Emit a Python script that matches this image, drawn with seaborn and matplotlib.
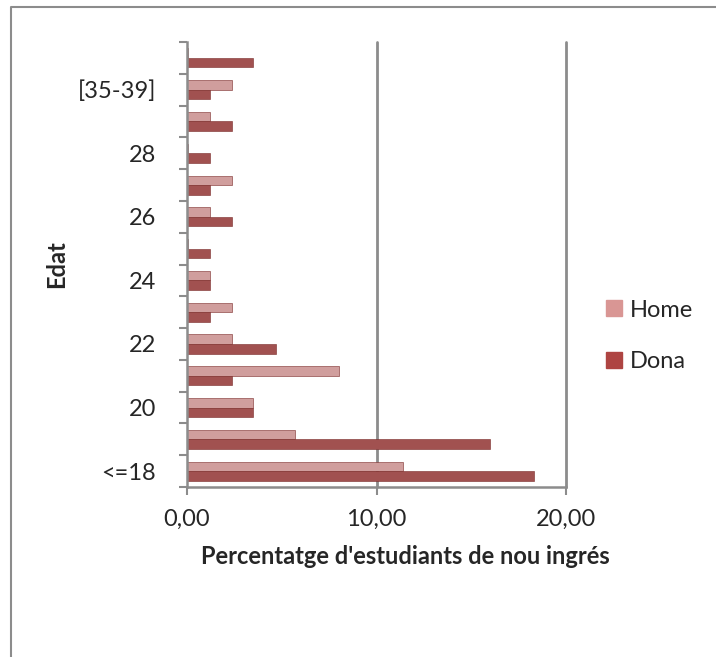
import pandas as pd
import matplotlib.pyplot as plt
import matplotlib.ticker as mticker
from matplotlib.lines import Line2D
import seaborn as sns

# age groups, bottom to top as drawn
edats = ['<=18', '19', '20', '21', '22', '23', '24', '25', '26', '27', '28',
         '[29-34]', '[35-39]', '>=40']
home = [11.4, 5.7, 3.5, 8.0, 2.35, 2.35, 1.2, 0.05, 1.2, 2.35, 0.05, 1.2, 2.35, 0.05]
dona = [18.3, 16.0, 3.5, 2.35, 4.7, 1.2, 1.2, 1.2, 2.35, 1.2, 1.2, 2.35, 1.2, 3.5]
sexes = ['Home', 'Dona']
colors = ['#D99694', '#AE4442']

df = pd.DataFrame({
    'edat': edats * 2,
    'pct': home + dona,
    'sexe': ['Home'] * len(edats) + ['Dona'] * len(edats),
})

sns.set_style('white')
plt.rcParams['font.family'] = ['Lato', 'DejaVu Sans']
FS = 17

W, H = 716, 657
fig = plt.figure(figsize=(W / 100, H / 100), dpi=100)
ax = fig.add_axes([187 / W, 1 - 487 / H, 379 / W, 445 / H])

# top-most category first so that <=18 ends at the bottom
sns.barplot(data=df, x='pct', y='edat', hue='sexe', order=edats[::-1],
            hue_order=sexes, palette=colors, orient='h', width=0.6,
            edgecolor='#7a2a28', linewidth=0.4, ax=ax, legend=False)

ax.set_xlim(0, 20)
ax.set_ylim(len(edats) - 0.5, -0.5)

# gridlines
for v in [10, 20]:
    ax.axvline(v, color='#8c8c8c', lw=2, zorder=0, clip_on=False)

for s in ['top', 'right']:
    ax.spines[s].set_visible(False)
for s in ['left', 'bottom']:
    ax.spines[s].set_color('#8c8c8c')
    ax.spines[s].set_linewidth(1.8)

ax.xaxis.set_major_locator(mticker.FixedLocator([0, 10, 20]))
ax.xaxis.set_major_formatter(mticker.FuncFormatter(lambda v, p: f'{v:.2f}'.replace('.', ',')))
ax.tick_params(axis='x', bottom=True, length=6, width=1.5, color='#8c8c8c',
               labelsize=FS, pad=10, direction='out')

# labels only every other category, tick marks between categories
order = edats[::-1]
labels = [lab if (len(edats) - 1 - i) % 2 == 0 else '' for i, lab in enumerate(order)]
ax.set_yticks(range(len(order)))
ax.set_yticklabels(labels)
ax.set_yticks([i - 0.5 for i in range(len(order) + 1)], minor=True)
ax.tick_params(axis='y', which='major', left=False, labelsize=FS, pad=19)
ax.tick_params(axis='y', which='minor', left=True, length=6, width=1.5,
               color='#8c8c8c', direction='out')

ax.set_ylabel('Edat', fontsize=FS, fontweight='bold')
ax.yaxis.set_label_coords((68 - 187) / 379, 0.5)
ax.set_xlabel('')
fig.text(405 / W, 1 - 557 / H, "Percentatge d'estudiants de nou ingrés",
         ha='center', va='center', fontsize=FS, fontweight='bold')

handles = [Line2D([], [], marker='s', ls='', markersize=12, color=c) for c in colors]
fig.legend(handles, sexes, loc='center left', bbox_to_anchor=(583 / W, 1 - 336 / H),
           frameon=False, fontsize=FS, labelspacing=1.3, handletextpad=0.3,
           handlelength=0.8)

# outer chart border
fig.add_artist(Line2D([11 / W, 11 / W, 1], [0, 1 - 7 / H, 1 - 7 / H],
                      transform=fig.transFigure, color='#8c8c8c', lw=1.5))

fig.savefig('out.png', dpi=100, facecolor='white')
